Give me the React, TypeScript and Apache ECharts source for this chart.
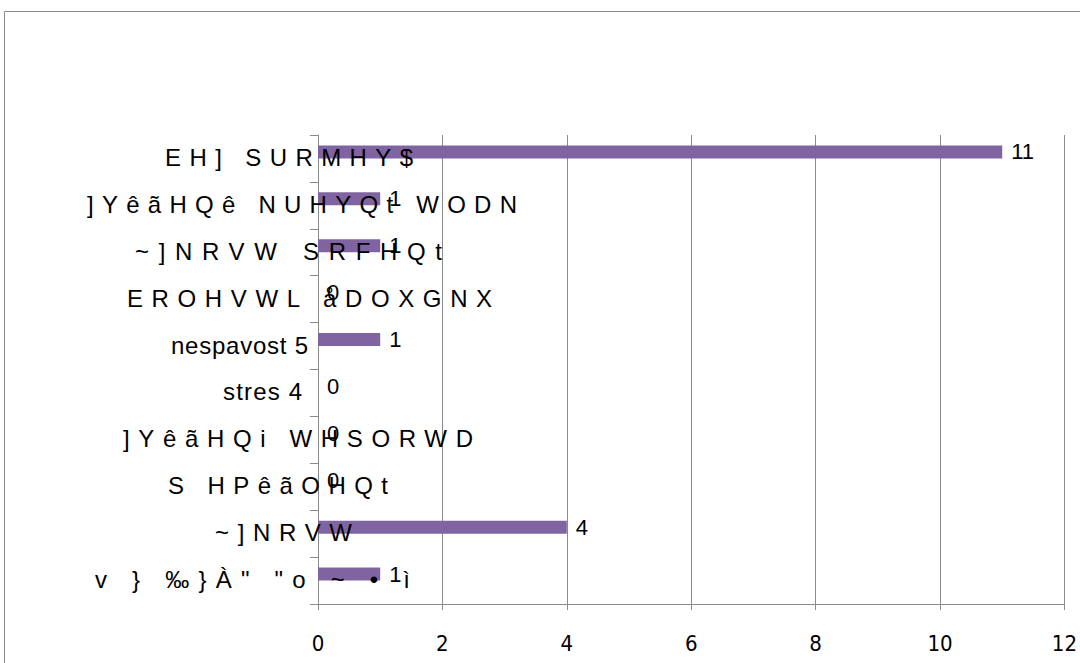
import React, { useEffect, useRef } from "react";
import * as echarts from "echarts";

const categories: string[] = [
  "EH] SURMHY$",
  "]YêãHQê NUHYQt WODN",
  "~]NRVW SRFHQt",
  "EROHVWL åDOXGNX",
  "nespavost 5",
  "stres 4",
  "]YêãHQi WHSORWD",
  "S HPêãOHQt",
  "~]NRVW",
  "v } ‰}À\" \"o ~ • ì",
];
const values: number[] = [11, 1, 1, 0, 1, 0, 0, 0, 4, 1];
const xMin = 0;
const xMax = 12;
const xStep = 2;

// layout: left and right edges of each category label's text (px)
const labelLeft = [165, 87, 135, 127, 171, 223, 123, 168, 215, 95];
const labelRight = [413, 517, 442, 493, 308, 302, 473, 388, 352, 410];

const GRAY = "#8a8a8a";
const LABEL_FONT_SIZE = 24;
const LABEL_FONT_FAMILY = "'Liberation Sans', Arial, sans-serif";
const NARROW = "'Liberation Sans Narrow', 'DejaVu Sans Condensed', sans-serif";

export default function App() {
  const ref = useRef<HTMLDivElement | null>(null);

  useEffect(() => {
    if (!ref.current) return;
    const chart = echarts.init(ref.current, null, { renderer: "svg" });
    chart.setOption({
      animation: false,
      grid: { left: 318, right: 12, top: 135, bottom: 59, containLabel: false },
      xAxis: {
        type: "value",
        min: xMin,
        max: xMax,
        interval: xStep,
        axisLine: { show: true, lineStyle: { color: GRAY, width: 1 } },
        axisTick: { show: true, length: 6, lineStyle: { color: GRAY } },
        splitLine: { show: true, lineStyle: { color: GRAY, width: 1 } },
        axisLabel: { margin: 28, fontSize: 22, color: "#000", fontFamily: NARROW },
      },
      yAxis: {
        type: "category",
        data: categories,
        inverse: true,
        axisLine: { show: true, lineStyle: { color: GRAY, width: 1 } },
        axisTick: { show: true, length: 8, interval: 0, lineStyle: { color: GRAY } },
        axisLabel: { show: false },
        splitLine: { show: false },
      },
      series: [
        {
          type: "bar",
          data: values,
          barWidth: 13,
          barGap: "0%",
          itemStyle: { color: "#8064A2" },
          label: {
            show: true,
            position: "right",
            distance: 9,
            fontSize: 22,
            color: "#000",
            fontFamily: LABEL_FONT_FAMILY,
          },
        },
        {
          type: "bar",
          data: [],
          barWidth: 13,
          barGap: "0%",
          itemStyle: { color: "#4F81BD" },
        },
      ],
    });

    const graphics: any[] = [
      {
        type: "rect",
        silent: true,
        z: 0,
        shape: { x: 4.5, y: 11.5, width: 1200, height: 800 },
        style: { fill: "none", stroke: GRAY, lineWidth: 1 },
      },
    ];
    categories.forEach((c, i) => {
      const y = chart.convertToPixel({ yAxisIndex: 0 } as any, i) as unknown as number;
      graphics.push({
        type: "text",
        z: 100,
        silent: true,
        x: labelLeft[i],
        y: y - 1,
        style: {
          text: c,
          fontSize: LABEL_FONT_SIZE,
          fontFamily: LABEL_FONT_FAMILY,
          fill: "#000",
          align: "left",
          textAlign: "left",
          verticalAlign: "middle",
          textVerticalAlign: "middle",
        },
      });
    });
    chart.setOption({ graphic: graphics });

    const applySpacing = () => {
      if (!ref.current) return;
      const canvas = document.createElement("canvas");
      const ctx = canvas.getContext("2d");
      if (!ctx) return;
      ctx.font = `${LABEL_FONT_SIZE}px 'Liberation Sans', Arial, sans-serif`;
      ref.current.querySelectorAll("text").forEach((t) => {
        const i = categories.indexOf(t.textContent || "");
        if (i < 0) return;
        const w = ctx.measureText(categories[i]).width;
        const n = Array.from(categories[i]).length;
        const ls = (labelRight[i] - labelLeft[i] - w) / Math.max(1, n - 1);
        t.setAttribute("letter-spacing", String(ls));
      });
    };
    applySpacing();
    chart.on("finished", applySpacing);

    return () => {
      chart.dispose();
    };
  }, []);

  return (
    <div
      ref={ref}
      style={{ position: "fixed", left: 0, top: 0, width: 1080, height: 663, background: "#fff" }}
    />
  );
}
